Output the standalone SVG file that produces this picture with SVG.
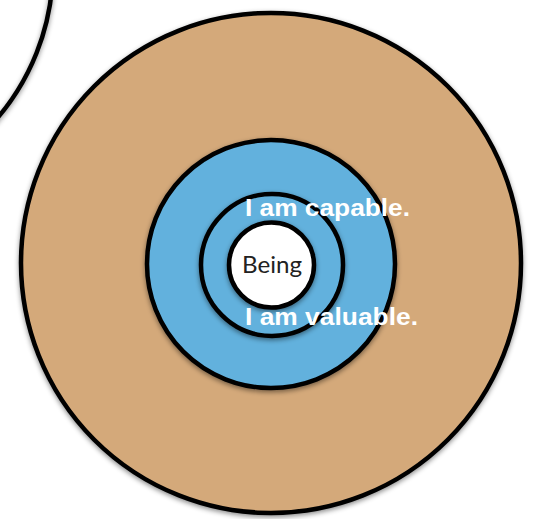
<svg xmlns="http://www.w3.org/2000/svg" width="533" height="519" viewBox="0 0 533 519">
<defs>
<filter id="sh" x="-20%" y="-20%" width="140%" height="140%">
<feDropShadow dx="0" dy="2" stdDeviation="2.5" flood-color="#000" flood-opacity="0.45"/>
</filter>
<style>
.ring{stroke:#000;stroke-width:4.5;filter:url(#sh)}
.lbl{font-family:"Liberation Sans",Arial,sans-serif;font-weight:bold;font-size:24px;fill:#fff}
.core{font-family:"Lato","Liberation Sans",sans-serif;font-size:23px;fill:#222}
</style>
</defs>
<rect width="533" height="519" fill="#fff"/>
<g id="outer-partial"><circle class="ring" cx="-180" cy="-33" r="233" fill="none"/></g>
<g id="outer"><circle class="ring" cx="271" cy="263" r="250" fill="#D4A97A"/></g>
<g id="blue"><circle class="ring" cx="271" cy="264" r="124" fill="#62B1DD"/></g>
<g id="inner"><circle class="ring" cx="272" cy="265" r="71" fill="#62B1DD"/></g>
<g id="being"><circle class="ring" cx="271.5" cy="265" r="42.5" fill="#fff"/>
<text class="core" x="272" y="273" text-anchor="middle" textLength="60" lengthAdjust="spacingAndGlyphs">Being</text></g>
<g id="labels">
<text class="lbl" x="245" y="216" textLength="165" lengthAdjust="spacingAndGlyphs">I am capable.</text>
<text class="lbl" x="245" y="325" textLength="173" lengthAdjust="spacingAndGlyphs">I am valuable.</text>
</g>
<g id="connectors"/>
</svg>
